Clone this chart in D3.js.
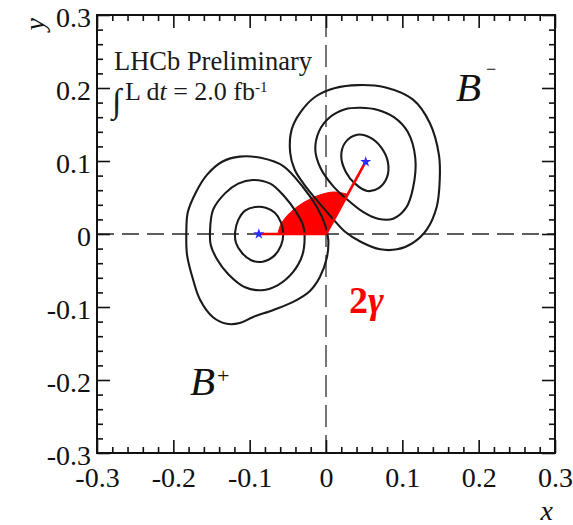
<!DOCTYPE html>
<html>
<head>
<meta charset="utf-8">
<script src="https://cdn.jsdelivr.net/npm/d3@7"></script>
<style>
  html, body { margin: 0; padding: 0; background: #fff; }
  svg { display: block; }
  text { font-family: "Liberation Serif", "Times New Roman", serif; }
</style>
</head>
<body>
<script>
// Axis ranges and tick values
const xDomain = [-0.3, 0.3];
const yDomain = [-0.3, 0.3];
const majorTicks = [-0.3, -0.2, -0.1, 0, 0.1, 0.2, 0.3];
const tickLabels = ["-0.3", "-0.2", "-0.1", "0", "0.1", "0.2", "0.3"];
const minorTicks = d3.range(-15, 16).map(i => +(i * 0.02).toFixed(2)).filter(v => Math.abs((v * 10) - Math.round(v * 10)) > 1e-6);

// Best-fit points (x, y) for B+ and B-
const bPlus = [-0.088, 0.0];
const bMinus = [0.052, 0.099];

// Likelihood contours around B+ (inner, middle, outer)
const bPlusInner = [
  [-0.093, 0.037], [-0.079, 0.036], [-0.067, 0.029], [-0.059, 0.016], [-0.056, 0.000],
  [-0.059, -0.016], [-0.068, -0.030], [-0.083, -0.038], [-0.098, -0.036], [-0.110, -0.026],
  [-0.118, -0.012], [-0.119, 0.003], [-0.115, 0.019], [-0.106, 0.032]
];
const bPlusMiddle = [
  [-0.096, 0.074], [-0.073, 0.069], [-0.055, 0.052], [-0.039, 0.030], [-0.030, 0.012],
  [-0.028, -0.004], [-0.031, -0.029], [-0.043, -0.052], [-0.063, -0.070], [-0.084, -0.077],
  [-0.106, -0.073], [-0.128, -0.055], [-0.142, -0.036], [-0.151, -0.015], [-0.152, 0.001],
  [-0.148, 0.033], [-0.132, 0.056], [-0.115, 0.069]
];
const bPlusOuter = [
  [-0.113, 0.106], [-0.084, 0.104], [-0.056, 0.093], [-0.030, 0.064], [-0.012, 0.037],
  [-0.001, 0.012], [0.003, -0.008], [0.001, -0.033], [-0.008, -0.059], [-0.021, -0.078],
  [-0.043, -0.093], [-0.069, -0.104], [-0.096, -0.114], [-0.113, -0.122], [-0.130, -0.123],
  [-0.148, -0.114], [-0.165, -0.090], [-0.174, -0.063], [-0.182, -0.029], [-0.183, 0.000],
  [-0.181, 0.030], [-0.170, 0.058], [-0.156, 0.081], [-0.136, 0.099]
];

// Likelihood contours around B- (inner, middle, outer)
const bMinusInner = [
  [0.041, 0.136], [0.058, 0.132], [0.072, 0.119], [0.081, 0.099], [0.080, 0.078],
  [0.069, 0.063], [0.054, 0.059], [0.038, 0.069], [0.026, 0.085], [0.020, 0.106],
  [0.025, 0.125]
];
const bMinusMiddle = [
  [0.045, 0.173], [0.068, 0.170], [0.089, 0.160], [0.107, 0.140], [0.117, 0.104],
  [0.114, 0.063], [0.105, 0.036], [0.088, 0.021], [0.068, 0.021], [0.049, 0.030],
  [0.028, 0.047], [0.009, 0.066], [-0.007, 0.090], [-0.014, 0.115], [-0.009, 0.141],
  [0.005, 0.160], [0.025, 0.171]
];
const bMinusOuter = [
  [0.042, 0.204], [0.077, 0.201], [0.114, 0.184], [0.136, 0.152], [0.148, 0.108],
  [0.149, 0.074], [0.145, 0.037], [0.132, 0.006], [0.114, -0.012], [0.093, -0.021],
  [0.071, -0.021], [0.046, -0.011], [0.025, 0.003], [0.008, 0.022], [-0.011, 0.045],
  [-0.028, 0.067], [-0.041, 0.088], [-0.047, 0.112], [-0.045, 0.143], [-0.034, 0.166],
  [-0.014, 0.188], [0.012, 0.200]
];
const contours = [bPlusInner, bPlusMiddle, bPlusOuter, bMinusInner, bMinusMiddle, bMinusOuter];

// Outline of the shaded 2γ wedge (curved edge), closed through the origin
const wedgeEdge = [
  [-0.063, 0.000], [-0.060, 0.011], [-0.051, 0.025], [-0.034, 0.040], [-0.012, 0.052],
  [0.009, 0.0575], [0.022, 0.056], [0.0285, 0.0543]
];
const origin = [0, 0];

const W = 573, H = 525;
const svg = d3.select("body").append("svg").attr("width", W).attr("height", H);
svg.append("rect").attr("width", W).attr("height", H).attr("fill", "#fff");

const x = d3.scaleLinear().domain(xDomain).range([97, 555]);
const y = d3.scaleLinear().domain(yDomain).range([453, 15]);

const plot = svg.append("g");
plot.append("clipPath").attr("id", "frame-clip")
  .append("rect").attr("x", 97).attr("y", 15).attr("width", 458).attr("height", 438);

const inner = plot.append("g").attr("clip-path", "url(#frame-clip)");

// Dashed reference lines through zero
inner.append("line")
  .attr("x1", x(xDomain[0])).attr("x2", x(xDomain[1]))
  .attr("y1", y(0)).attr("y2", y(0))
  .attr("stroke", "#2a2a2a").attr("stroke-width", 1.6).attr("stroke-dasharray", "17,8");
inner.append("line")
  .attr("x1", x(0)).attr("x2", x(0))
  .attr("y1", y(yDomain[1])).attr("y2", y(yDomain[0]))
  .attr("stroke", "#555").attr("stroke-width", 1.6).attr("stroke-dasharray", "22,8");

// Shaded wedge
const wedgeLine = d3.line().x(d => x(d[0])).y(d => y(d[1])).curve(d3.curveCatmullRom);
const wedgePath = wedgeLine(wedgeEdge) + "L" + x(origin[0]) + "," + y(origin[1]) + "Z";
inner.append("path").attr("d", wedgePath).attr("fill", "#ff0000").attr("stroke", "#ff0000").attr("stroke-width", 1);

// Contours
const contourLine = d3.line().x(d => x(d[0])).y(d => y(d[1])).curve(d3.curveCatmullRomClosed);
inner.selectAll("path.contour").data(contours).join("path")
  .attr("class", "contour")
  .attr("d", contourLine)
  .attr("fill", "none")
  .attr("stroke", "#1a1a1a")
  .attr("stroke-width", 2.1);

// Red lines from the origin to both best-fit points
[bPlus, bMinus].forEach(p => {
  inner.append("line")
    .attr("x1", x(origin[0])).attr("y1", y(origin[1]))
    .attr("x2", x(p[0])).attr("y2", y(p[1]))
    .attr("stroke", "#ff0000").attr("stroke-width", 2.6);
});

// Best-fit stars
inner.selectAll("path.star").data([bPlus, bMinus]).join("path")
  .attr("class", "star")
  .attr("d", d3.symbol().type(d3.symbolStar).size(38))
  .attr("transform", d => `translate(${x(d[0])},${y(d[1])})`)
  .attr("fill", "#2b2bff");

// Axes: ticks on all four sides, pointing inward
const fontSize = 28;
function drawAxis(axisFn, scale, tx, ty, size, values, withLabels) {
  const a = axisFn(scale).tickValues(values).tickSize(size).tickSizeOuter(0);
  if (withLabels) a.tickFormat(d => tickLabels[majorTicks.indexOf(d)]);
  else a.tickFormat("");
  const g = plot.append("g").attr("transform", `translate(${tx},${ty})`).call(a);
  g.select(".domain").remove();
  g.selectAll(".tick line").attr("stroke", "#111").attr("stroke-width", 1.6);
  return g;
}
// bottom
const gb = drawAxis(d3.axisBottom, x, 0, 453, -13, majorTicks, true);
gb.selectAll(".tick text").attr("y", 34).attr("dy", 0)
  .attr("font-size", fontSize).attr("fill", "#111")
  .style("font-family", "'Liberation Serif', serif");
drawAxis(d3.axisBottom, x, 0, 453, -6, minorTicks, false);
// top
drawAxis(d3.axisTop, x, 0, 15, -13, majorTicks, false);
drawAxis(d3.axisTop, x, 0, 15, -6, minorTicks, false);
// left
const gl = drawAxis(d3.axisLeft, y, 97, 0, -13, majorTicks, true);
gl.selectAll(".tick text").attr("x", -6).attr("y", 11).attr("dy", 0)
  .attr("font-size", fontSize).attr("fill", "#111")
  .attr("text-anchor", "end")
  .style("font-family", "'Liberation Serif', serif");
drawAxis(d3.axisLeft, y, 97, 0, -6, minorTicks, false);
// right
drawAxis(d3.axisRight, y, 555, 0, -13, majorTicks, false);
drawAxis(d3.axisRight, y, 555, 0, -6, minorTicks, false);

// Frame
plot.append("rect").attr("x", 97).attr("y", 15).attr("width", 458).attr("height", 438)
  .attr("fill", "none").attr("stroke", "#111").attr("stroke-width", 2);

// Axis titles
svg.append("text")
  .attr("transform", "translate(44,18) rotate(-90)")
  .attr("text-anchor", "end")
  .attr("font-size", fontSize).attr("font-style", "italic").attr("fill", "#111")
  .text("y");
svg.append("text")
  .attr("x", 553).attr("y", 520).attr("text-anchor", "end")
  .attr("font-size", fontSize).attr("font-style", "italic").attr("fill", "#111")
  .text("x");

// Experiment label
svg.append("text").attr("x", 114).attr("y", 70)
  .attr("font-size", 26.5).attr("fill", "#1a1a1a")
  .text("LHCb Preliminary");
svg.append("text").attr("x", 112).attr("y", 112)
  .attr("font-size", 34).attr("fill", "#1a1a1a")
  .text("∫");
const lumi = svg.append("text").attr("x", 125).attr("y", 100)
  .attr("font-size", 26).attr("fill", "#1a1a1a");
lumi.append("tspan").text("L d");
lumi.append("tspan").attr("font-style", "italic").text("t");
lumi.append("tspan").text(" = 2.0 fb");
lumi.append("tspan").attr("font-size", 15).attr("dy", -8).text("-1");

// Charge labels
svg.append("text").attr("x", 456).attr("y", 101)
  .attr("font-size", 41).attr("font-style", "italic").attr("fill", "#111")
  .text("B");
svg.append("text").attr("x", 486).attr("y", 75)
  .attr("font-size", 18).attr("fill", "#111")
  .text("−");
svg.append("text").attr("x", 190).attr("y", 395)
  .attr("font-size", 41).attr("font-style", "italic").attr("fill", "#111")
  .text("B");
svg.append("text").attr("x", 217).attr("y", 383)
  .attr("font-size", 22).attr("fill", "#111")
  .text("+");

// Angle label
const ang = svg.append("text").attr("x", 349).attr("y", 313)
  .attr("font-size", 38).attr("font-weight", "bold").attr("fill", "#ff0000");
ang.append("tspan").text("2");
ang.append("tspan").attr("font-style", "italic").text("γ");

// Partially visible glyph at the bottom edge
svg.append("text").attr("x", 82).attr("y", 546)
  .attr("font-size", 30).attr("font-weight", "bold").attr("fill", "#111")
  .style("font-family", "'Liberation Sans', sans-serif")
  .text("1");
</script>
</body>
</html>
